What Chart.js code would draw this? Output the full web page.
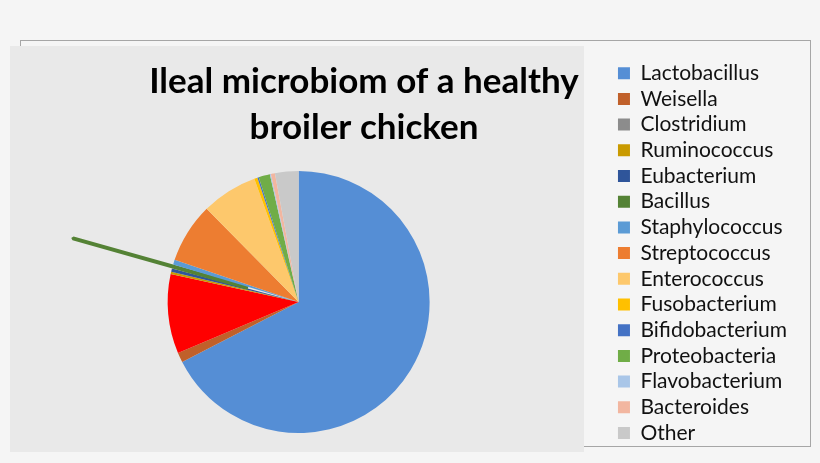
<!DOCTYPE html>
<html>
<head>
<meta charset="utf-8">
<title>Ileal microbiom of a healthy broiler chicken</title>
<script src="https://cdn.jsdelivr.net/npm/chart.js@4"></script>
<style>
  html, body { margin: 0; padding: 0; }
  body { width: 820px; height: 463px; background: #f5f5f5; position: relative; overflow: hidden; }
  #frame { position: absolute; left: 20px; top: 40px; width: 789px; height: 405px; border: 1px solid #a6a6a6; background: #f5f5f5; }
  #panel { position: absolute; left: 10px; top: 46px; width: 574px; height: 406px; background: #e9e9e9; }
  #wrap { position: absolute; left: -69px; top: 0; width: 866px; height: 463px; }
</style>
</head>
<body>
<div id="frame"></div>
<div id="panel"></div>
<div id="wrap"><canvas id="pie" width="866" height="463"></canvas></div>
<script>
const labels = ['Lactobacillus', 'Weisella', 'Clostridium', 'Ruminococcus', 'Eubacterium', 'Bacillus',
  'Staphylococcus', 'Streptococcus', 'Enterococcus', 'Fusobacterium', 'Bifidobacterium',
  'Proteobacteria', 'Flavobacterium', 'Bacteroides', 'Other'];
const shares = [67.5, 1.2, 9.8, 0.3, 0.4, 0.5, 0.6, 7.4, 6.9, 0.4, 0.17, 1.4, 0.13, 0.5, 2.9];

// slice colours (Clostridium slice is red in the original, its legend key is grey)
const sliceColors = ['#558ed5', '#c0602a', '#ff0000', '#c99a00', '#2f559a', '#548235',
  '#5b9bd5', '#ed7d31', '#fdc86c', '#ffc000', '#4472c4', '#70ad47', '#a9c6e8', '#f2b6a0', '#c9c9c9'];
const legendColors = ['#558ed5', '#c0602a', '#8c8c8c', '#c99a00', '#2f559a', '#548235',
  '#5b9bd5', '#ed7d31', '#fdc86c', '#ffc000', '#4472c4', '#70ad47', '#a9c6e8', '#f2b6a0', '#c9c9c9'];
// Bacillus is pulled out of the pie (thin slice, so it gets an outline to stay visible)
const explode = [0, 0, 0, 0, 0, 210, 0, 0, 0, 0, 0, 0, 0, 0, 0];
const outline = [0, 0, 0, 0, 0, 4, 0, 0, 0, 0, 0, 0, 0, 0, 0];

new Chart(document.getElementById('pie'), {
  type: 'pie',
  data: {
    labels: labels,
    datasets: [{
      data: shares,
      backgroundColor: sliceColors,
      borderColor: sliceColors,
      borderWidth: outline,
      offset: explode,
      radius: 131
    }]
  },
  options: {
    responsive: false,
    animation: false,
    events: [],
    layout: {
      padding: { left: 0, right: 0, top: 58, bottom: 9 }
    },
    plugins: {
      tooltip: { enabled: false },
      title: {
        display: true,
        text: ['Ileal microbiom of a healthy', 'broiler chicken'],
        color: '#000000',
        font: { family: 'Lato', size: 35, weight: 'bold', lineHeight: '45.5px' },
        padding: { top: 1, bottom: 0 }
      },
      // empty spacer on the left so the pie sits left of the title centre
      subtitle: {
        display: true,
        position: 'left',
        text: '',
        font: { lineHeight: '53px' },
        padding: 0
      },
      legend: {
        position: 'right',
        align: 'start',
        labels: {
          boxWidth: 12,
          boxHeight: 12,
          padding: 4.7,
          color: '#111111',
          font: { family: 'Lato', size: 21 },
          generateLabels(chart) {
            const items = Chart.overrides.pie.plugins.legend.labels.generateLabels(chart);
            items.forEach((item, i) => {
              item.fillStyle = legendColors[i];
              item.strokeStyle = legendColors[i];
              item.lineWidth = 0;
            });
            return items;
          }
        }
      }
    }
  }
});
</script>
</body>
</html>
